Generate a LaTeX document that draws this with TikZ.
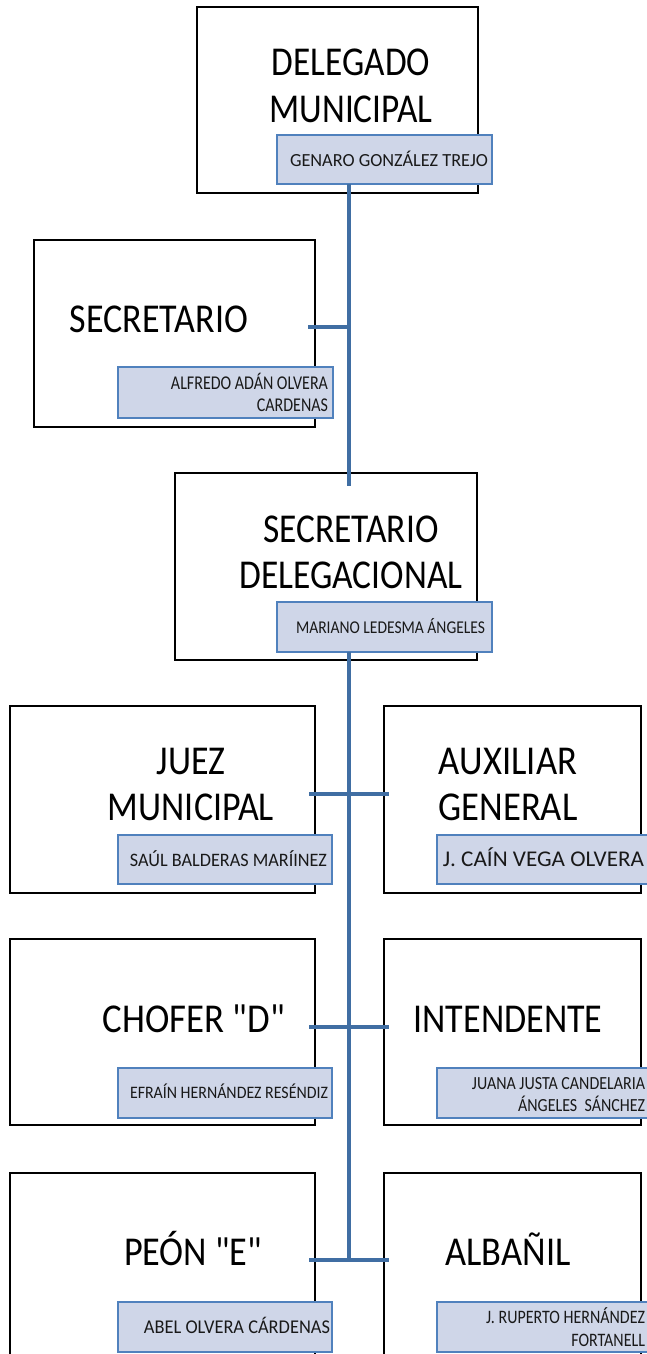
\documentclass[tikz,border=0pt]{standalone}
\usepackage{fontspec}
\setmainfont{Carlito}
\usepackage{graphicx}
\usetikzlibrary{calc}
\definecolor{spinec}{RGB}{64,110,163}
\definecolor{nmfill}{RGB}{207,214,232}
\definecolor{nmdraw}{RGB}{80,129,189}
% width, font size, baselineskip, column spec, text
\newcommand\ftxt[5]{\resizebox{#1pt}{\height}{\fontsize{#2}{#3}\selectfont\begin{tabular}[t]{@{}#4@{}}#5\end{tabular}}}
\tikzset{
  pbox/.style={draw=black, line width=1.2pt, fill=white, rectangle, inner sep=0pt, outer sep=0pt, anchor=north west},
  nbox/.style={draw=nmdraw, line width=1.4pt, fill=nmfill, rectangle, inner sep=0pt, outer sep=0pt, anchor=north west},
  ttl/.style={inner sep=0pt, outer sep=0pt, anchor=base, text=black},
  nmt/.style={inner sep=0pt, outer sep=0pt, anchor=base east, text=black!90},
  conn/.style={draw=spinec, line width=4.6pt}
}
\begin{document}
\begin{tikzpicture}[x=1pt,y=-1pt]
\useasboundingbox (0,0) rectangle (647,1354);
\clip (0,0) rectangle (647,1354);
% position boxes
\node[pbox, minimum width=281, minimum height=186] (top) at (197,7) {};
\node[pbox, minimum width=281, minimum height=187] (sec) at (34,240) {};
\node[pbox, minimum width=302, minimum height=187] (sdel) at (175,473) {};
\node[pbox, minimum width=305, minimum height=187] (juez) at (10,706) {};
\node[pbox, minimum width=257, minimum height=187] (aux) at (384,706) {};
\node[pbox, minimum width=305, minimum height=186] (chof) at (10,939) {};
\node[pbox, minimum width=257, minimum height=186] (intd) at (384,939) {};
\node[pbox, minimum width=305, minimum height=230] (peon) at (10,1173) {};
\node[pbox, minimum width=257, minimum height=230] (alb) at (384,1173) {};
% name boxes
\node[nbox, minimum width=215, minimum height=49] (topn) at (277,135) {};
\node[nbox, minimum width=215, minimum height=51] (secn) at (118,367) {};
\node[nbox, minimum width=215, minimum height=50] (sdeln) at (277,602) {};
\node[nbox, minimum width=214, minimum height=49] (juezn) at (118,835) {};
\node[nbox, minimum width=230, minimum height=49] (auxn) at (437,835) {};
\node[nbox, minimum width=214, minimum height=50] (chofn) at (118,1068) {};
\node[nbox, minimum width=230, minimum height=50] (intdn) at (437,1068) {};
\node[nbox, minimum width=214, minimum height=50] (peonn) at (118,1302) {};
\node[nbox, minimum width=230, minimum height=50] (albn) at (437,1302) {};
% titles
\node[ttl] (ttop) at (351,75) {\ftxt{163}{41}{47}{c}{DELEGADO\\MUNICIPAL}};
\node[ttl] (tsec) at (159,332) {\ftxt{178}{41}{47}{c}{SECRETARIO}};
\node[ttl] (tsdel) at (351,542) {\ftxt{223}{41}{46}{c}{SECRETARIO\\DELEGACIONAL}};
\node[ttl] (tjuez) at (191,774) {\ftxt{166}{41}{46}{c}{JUEZ\\MUNICIPAL}};
\node[ttl] (taux) at (508,774) {\ftxt{139}{41}{46}{c}{AUXILIAR\\GENERAL}};
\node[ttl] (tchof) at (194,1032) {\ftxt{182}{41}{47}{c}{CHOFER \textquotedbl D\textquotedbl}};
\node[ttl] (tintd) at (508,1032) {\ftxt{189}{41}{47}{c}{INTENDENTE}};
\node[ttl] (tpeon) at (193,1265) {\ftxt{138}{41}{47}{c}{PEÓN \textquotedbl E\textquotedbl}};
\node[ttl] (talb) at (508,1265) {\ftxt{125}{41}{47}{c}{ALBAÑIL}};
% names
\node[nmt] (ntop) at (488,166) {\ftxt{198}{18.5}{22}{r}{GENARO GONZÁLEZ TREJO}};
\node[nmt] (nsec) at (328,389) {\ftxt{157}{19.5}{22}{r}{ALFREDO ADÁN OLVERA\\CARDENAS}};
\node[nmt] (nsdel) at (485,633) {\ftxt{189}{18}{22}{r}{MARIANO LEDESMA ÁNGELES}};
\node[nmt] (njuez) at (327,866) {\ftxt{197}{19}{22}{r}{SAÚL BALDERAS MARÍINEZ}};
\node[nmt] (naux) at (644,866) {\ftxt{201}{22.5}{22}{r}{J. CAÍN VEGA OLVERA}};
\node[nmt] (nintd) at (645,1089) {\ftxt{173}{18.5}{22}{r}{JUANA JUSTA CANDELARIA\\ÁNGELES~~SÁNCHEZ}};
\node[nmt] (nchof) at (328,1098) {\ftxt{198}{17.5}{22}{r}{EFRAÍN HERNÁNDEZ RESÉNDIZ}};
\node[nmt] (npeon) at (330,1333) {\ftxt{186}{19.5}{22}{r}{ABEL OLVERA CÁRDENAS}};
\node[nmt] (nalb) at (645,1323) {\ftxt{159}{19}{23}{r}{J. RUPERTO HERNÁNDEZ\\FORTANELL}};
% connectors
\coordinate (sx) at (349,0);
\coordinate (j1) at (349,327);
\coordinate (j2) at (349,794);
\coordinate (j3) at (349,1027);
\coordinate (j4) at (349,1260);
\draw[conn] (topn.south -| sx) -- ($(sdel.north -| sx)+(0,13)$);
\draw[conn] ($(j1 -| sec.east)+(-7,0)$) -- (j1);
\draw[conn] (sdeln.south -| sx) -- (j4);
\draw[conn] ($(j2 -| juez.east)+(-6,0)$) -- ($(j2 -| aux.west)+(5,0)$);
\draw[conn] ($(j3 -| chof.east)+(-6,0)$) -- ($(j3 -| intd.west)+(5,0)$);
\draw[conn] ($(j4 -| peon.east)+(-6,0)$) -- ($(j4 -| alb.west)+(5,0)$);
\end{tikzpicture}
\end{document}
